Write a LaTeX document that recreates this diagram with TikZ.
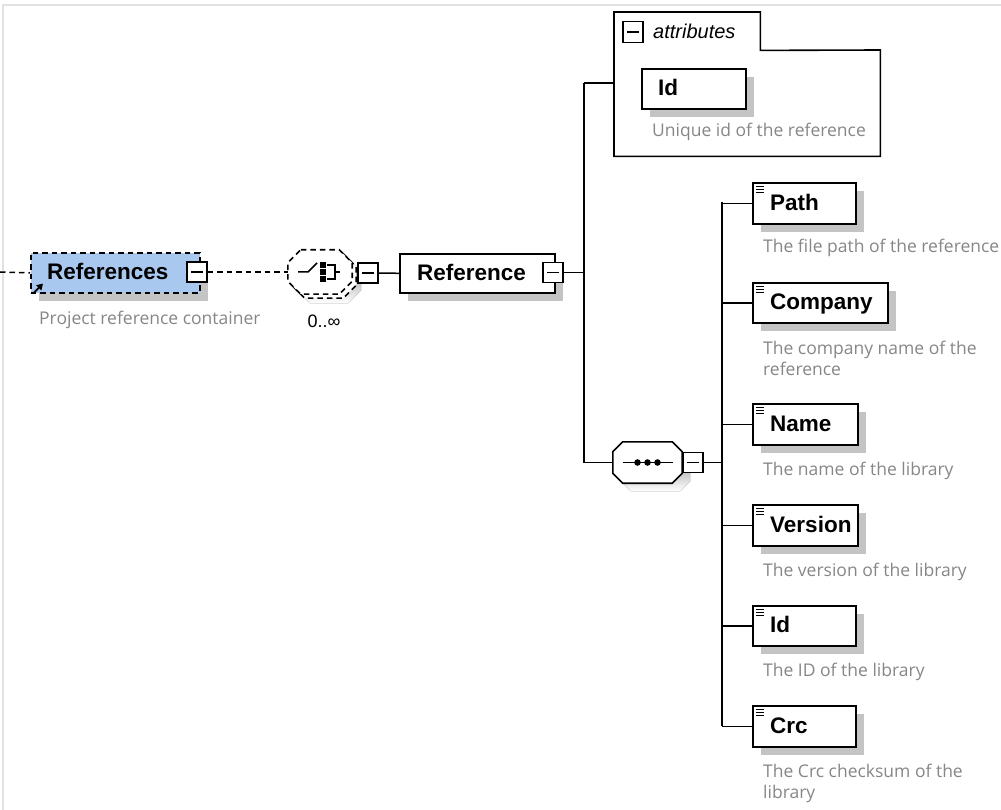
\documentclass[tikz,border=0pt]{standalone}
\usepackage{fontspec}
\setmainfont{Liberation Sans}
\newfontfamily\descfont{Open Sans}
\usetikzlibrary{shadows,arrows.meta}
\definecolor{shade}{HTML}{C4C4C4}
\definecolor{refblue}{HTML}{A9C8EF}
\definecolor{desc}{HTML}{868686}
\definecolor{framegray}{HTML}{E2E2E2}
% octagon outline around node #1: chamfer #2, offset (#3,#4)
\newcommand{\octpath}[4]{([shift={(#3+#2,#4)}]#1.north west) -- ([shift={(#3-#2,#4)}]#1.north east)
  -- ([shift={(#3,#4+#2)}]#1.north east) -- ([shift={(#3,#4-#2)}]#1.south east)
  -- ([shift={(#3-#2,#4)}]#1.south east) -- ([shift={(#3+#2,#4)}]#1.south west)
  -- ([shift={(#3,#4-#2)}]#1.south west) -- ([shift={(#3,#4+#2)}]#1.north west) -- cycle}
\begin{document}
\begin{tikzpicture}[x=1pt,y=-1pt,
  wire/.style={line width=1.5pt},
  dashy/.style={dashed, dash pattern=on 5.5pt off 4pt},
  box/.style={draw, line width=1.6pt, fill=white, rectangle, anchor=north west, inner sep=0pt,
    general shadow={fill=shade, shadow xshift=8pt, shadow yshift=-8pt}},
  leaf/.style={box, path picture={
      \foreach \d in {4,7,10}
        \draw[line width=1.2pt] ([shift={(3pt,-\d pt)}]path picture bounding box.north west) -- ++(8pt,0);}},
  lbl/.style={anchor=base west, inner sep=0pt, font=\fontsize{22.5}{26}\selectfont\bfseries},
  note/.style={anchor=base west, inner sep=0pt, text=desc,
    font=\descfont\fontsize{17.5}{21}\selectfont},
  minus/.style={draw, line width=1.4pt, fill=white, rectangle, inner sep=0pt,
    minimum width=20pt, minimum height=20pt,
    path picture={\draw[line width=1.4pt] ([xshift=4pt]path picture bounding box.west)
      -- ([xshift=-4pt]path picture bounding box.east);}},
  compositor/.style={rectangle, inner sep=0pt},
  octline/.style={line width=1.6pt, fill=white}
]
\useasboundingbox (0,0) rectangle (1001,810);
\draw[framegray, line width=1.5pt] (3,810) -- (3,5) -- (1001,5);

% References (global element reference)
\node[box, fill=refblue, dashy, minimum width=169pt, minimum height=40pt] (refs) at (30,252) {};
\node[lbl] (refslbl) at ([xshift=17pt, yshift=-7pt]refs.west) {References};
\draw[-{Triangle[length=6pt,width=7pt]}, line width=1.8pt] ([shift={(4pt,1pt)}]refs.south west) -- ++(9pt,9pt);
\node[minus] (refsm) at (197,272) {};
\node[note] (refsnote) at (39,324) {Project reference container};
\coordinate (lend) at (0,272);

% choice compositor, 0..unbounded
\node[compositor, minimum width=64pt, minimum height=44pt] (choice) at (320,272) {};
\fill[shade] \octpath{choice}{13}{9}{9};
\draw[octline, dashy] \octpath{choice}{13}{4}{4};
\draw[octline, dashy] \octpath{choice}{13}{0}{0};
\draw[line width=1.5pt] ([xshift=-22pt]choice.center) -- ++(10pt,0) -- ++(9pt,9pt);
\foreach \d in {-7,0,7}
  \fill ([shift={(0pt,\d pt)}]choice.center) ++(0pt,2.75pt) rectangle ++(5.5pt,-5.5pt);
\draw[line width=1.5pt] ([shift={(7pt,7pt)}]choice.center) -- ++(8pt,0) -- ++(0,-14pt) -- ++(-8pt,0);
\draw[line width=1.5pt] ([shift={(15pt,0pt)}]choice.center) -- ++(5pt,0);
\node[minus] (choicem) at (368,273) {};
\node[anchor=base, inner sep=0pt, font=\fontsize{18}{20}\selectfont] (occ) at (324,327) {0..∞};

% Reference element
\node[box, minimum width=155pt, minimum height=39pt] (ref) at (399,253) {};
\node[lbl] (reflbl) at ([xshift=18pt, yshift=-7pt]ref.west) {Reference};
\node[minus] (refm) at (553,272.5) {};

% attributes
\node[anchor=north west, minimum width=146pt, minimum height=38pt, inner sep=0pt] (attrtab) at (614,12) {};
\node[anchor=north west, minimum width=266pt, minimum height=106pt, inner sep=0pt] (attrbox) at (614,50) {};
\draw[line width=1.6pt] (attrtab.north west) -- (attrtab.north east) -- (attrtab.south east)
  -- (attrbox.north east) -- (attrbox.south east) -- (attrbox.south west) -- cycle;
\node[minus, minimum height=21pt] (attrm) at (633,32) {};
\node[anchor=base west, inner sep=0pt, font=\fontsize{20}{24}\selectfont\itshape] (attrlbl) at (653,39) {attributes};
\node[box, minimum width=104pt, minimum height=40pt] (idattr) at (641,68) {};
\node[lbl] (idattrlbl) at ([xshift=17pt, yshift=-7pt]idattr.west) {Id};
\node[note] (idattrnote) at (652,137) {Unique id of the reference};

% sequence compositor
\node[compositor, minimum width=69pt, minimum height=41pt] (seq) at (647.5,462.5) {};
\fill[shade] \octpath{seq}{10}{8}{8};
\draw[octline] \octpath{seq}{10}{0}{0};
\draw[line width=1.4pt] ([xshift=-25pt]seq.center) -- ([xshift=25pt]seq.center);
\foreach \d in {-10,0,10}
  \fill ([xshift=\d pt]seq.center) circle (3.3pt);
\node[minus] (seqm) at (693,462.5) {};

% children of the sequence
\node[leaf, minimum width=103pt, minimum height=41pt] (path) at (752,182) {};
\node[lbl] (pathlbl) at ([xshift=18pt, yshift=-7pt]path.west) {Path};
\node[note] (pathnote) at (763,253) {The file path of the reference};

\node[leaf, minimum width=135pt, minimum height=40pt] (company) at (752,282) {};
\node[lbl] (companylbl) at ([xshift=18pt, yshift=-7pt]company.west) {Company};
\node[note] (companynote) at (763,354) {The company name of the};
\node[note] (companynote2) at (763,375) {reference};

\node[leaf, minimum width=105pt, minimum height=41pt] (name) at (752,403) {};
\node[lbl] (namelbl) at ([xshift=18pt, yshift=-7pt]name.west) {Name};
\node[note] (namenote) at (763,475) {The name of the library};

\node[leaf, minimum width=105pt, minimum height=41pt] (version) at (752,504) {};
\node[lbl] (versionlbl) at ([xshift=18pt, yshift=-7pt]version.west) {Version};
\node[note] (versionnote) at (763,576) {The version of the library};

\node[leaf, minimum width=103pt, minimum height=40pt] (id) at (752,605) {};
\node[lbl] (idlbl) at ([xshift=18pt, yshift=-7pt]id.west) {Id};
\node[note] (idnote) at (763,676) {The ID of the library};

\node[leaf, minimum width=103pt, minimum height=41pt] (crc) at (752,705) {};
\node[lbl] (crclbl) at ([xshift=18pt, yshift=-7pt]crc.west) {Crc};
\node[note] (crcnote) at (763,777) {The Crc checksum of the};
\node[note] (crcnote2) at (763,798) {library};

% connectors
\coordinate (trtop) at (584,83);
\coordinate (trbot) at (584,462.5);
\coordinate (bustop) at (722,202.5);
\coordinate (busbot) at (722,725.5);
\draw[wire, dashy] (lend) -- (refs.west);
\draw[wire, dashy] (refsm.east) -- (choice.west);
\draw[wire] (choicem.east) -- (ref.west);
\draw[wire] (refm.east) -- (refm.east -| trtop);
\draw[wire] (trtop) -- (trbot);
\draw[wire] (trtop) -- (trtop -| attrbox.west);
\draw[wire] (trbot) -- (seq.west);
\draw[wire] (seqm.east) -- (seqm.east -| bustop);
\draw[wire] (bustop) -- (busbot);
\foreach \c in {path,company,name,version,id,crc}
  \draw[wire] (\c.west -| bustop) -- (\c.west);
\end{tikzpicture}
\end{document}
